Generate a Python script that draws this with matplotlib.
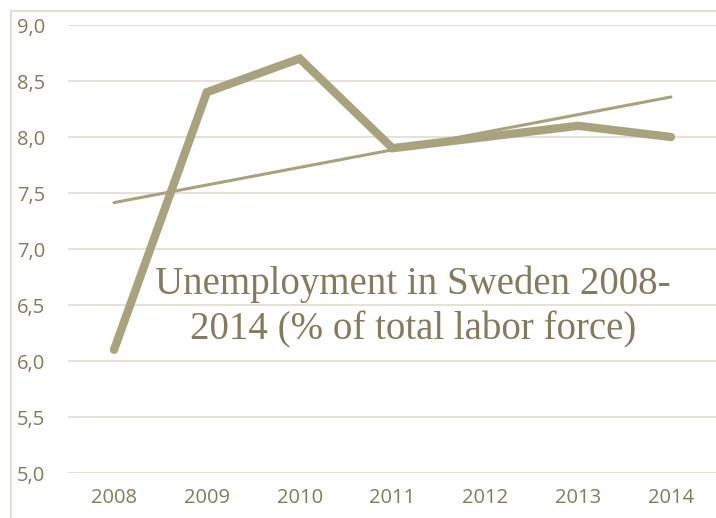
import numpy as np
import matplotlib.pyplot as plt
from matplotlib.patches import Rectangle

years = ['2008', '2009', '2010', '2011', '2012', '2013', '2014']
unemployment = [6.1, 8.4, 8.7, 7.9, 8.0, 8.1, 8.0]
yticks = [5.0, 5.5, 6.0, 6.5, 7.0, 7.5, 8.0, 8.5, 9.0]
title = 'Unemployment in Sweden 2008-\n2014 (% of total labor force)'

line_col = '#a8a37d'
text_col = '#857a5c'
grid_col = '#e6e2d9'

W, H = 716, 518
fig = plt.figure(figsize=(W / 100, H / 100), dpi=100)

# outer chart border (Excel style)
fig.patches.append(Rectangle((11 / W, -0.2), 2.0, 1.2 - 11 / H, transform=fig.transFigure,
                             fill=False, edgecolor='#e3dfd5', linewidth=1.5))

ax = fig.add_axes([67.6 / W, 45 / H, 649.8 / W, 448 / H])
x = np.arange(len(years))

ax.plot(x, unemployment, color=line_col, lw=6, solid_capstyle='round',
        solid_joinstyle='miter', zorder=3)

# linear trendline
k, b = np.polyfit(x, unemployment, 1)
ax.plot(x, k * x + b, color=line_col, lw=2.2, solid_capstyle='round', zorder=3)

ax.set_xlim(-0.5, len(years) - 0.5)
ax.set_ylim(5.0, 9.0)
ax.set_yticks(yticks)
ax.set_yticklabels([f'{v:.1f}'.replace('.', ',') for v in yticks])
ax.set_xticks(x)
ax.set_xticklabels(years)

ax.grid(axis='y', color=grid_col, lw=1.5, zorder=0)
for s in ax.spines.values():
    s.set_visible(False)
ax.tick_params(length=0, colors=text_col, labelsize=14.5)
ax.tick_params(axis='y', pad=16)
ax.tick_params(axis='x', pad=11)
for lab in ax.get_xticklabels() + ax.get_yticklabels():
    lab.set_fontfamily('Open Sans')

ax.text(413 / W, 1 - 307 / H, title, transform=fig.transFigure, ha='center', va='center',
        fontsize=28, color=text_col, family='Liberation Serif', linespacing=1.3, zorder=4)

fig.savefig('out.png', dpi=100)
